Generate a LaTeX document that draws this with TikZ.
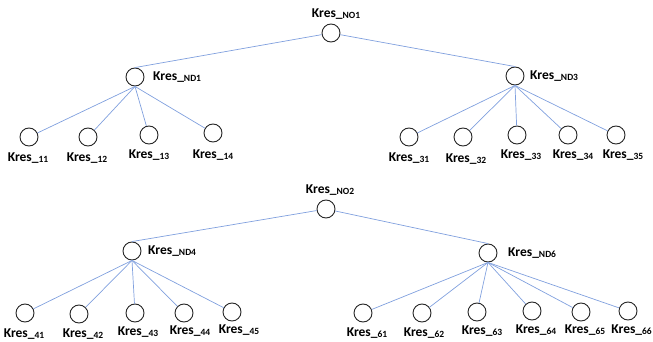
\documentclass[tikz,border=0pt]{standalone}
\usepackage{fontspec}
\setmainfont{Carlito}
\definecolor{edgeblue}{RGB}{128,160,222}
\newcommand{\kres}[1]{\textbf{Kres\_\raisebox{-1pt}{\fontsize{9.5}{9.5}\selectfont #1}}}
\begin{document}
\begin{tikzpicture}[x=1pt,y=-1pt,
  vert/.style={circle,draw=black!85,line width=0.9pt,minimum size=18pt,inner sep=0pt},
  lbl/.style={font=\fontsize{13.5}{14}\selectfont,inner sep=0pt},
  edge/.style={draw=edgeblue,line width=0.7pt}]
\useasboundingbox (0,0) rectangle (653,342);
% top tree
\node[vert] (NO1) at (331,33) {};
\node[lbl] (lNO1) at (336,14) {\kres{NO1}};
\node[vert] (ND1) at (135,77) {};
\node[lbl,anchor=west] (lND1) at (153,77) {\kres{ND1}};
\node[vert] (ND3) at (515,76) {};
\node[lbl,anchor=west] (lND3) at (530,76) {\kres{ND3}};
\node[vert] (L11) at (29,137) {};
\node[vert] (L12) at (88,137) {};
\node[vert] (L13) at (149,135) {};
\node[vert] (L14) at (213,133) {};
\node[lbl] (l11) at (28,158) {\kres{11}};
\node[lbl] (l12) at (87,158) {\kres{12}};
\node[lbl] (l13) at (149,155) {\kres{13}};
\node[lbl] (l14) at (213,155) {\kres{14}};
\node[vert] (L31) at (409,137) {};
\node[vert] (L32) at (463,137) {};
\node[vert] (L33) at (517,135) {};
\node[vert] (L34) at (568,135) {};
\node[vert] (L35) at (616,135) {};
\node[lbl] (l31) at (409,158) {\kres{31}};
\node[lbl] (l32) at (466,159) {\kres{32}};
\node[lbl] (l33) at (521,155) {\kres{33}};
\node[lbl] (l34) at (573,155) {\kres{34}};
\node[lbl] (l35) at (623,155) {\kres{35}};
% bottom tree
\node[vert] (NO2) at (326,209) {};
\node[lbl] (lNO2) at (330,190) {\kres{NO2}};
\node[vert] (ND4) at (132,251) {};
\node[lbl,anchor=west] (lND4) at (148,251) {\kres{ND4}};
\node[vert] (ND6) at (488,253) {};
\node[lbl,anchor=west] (lND6) at (508,253) {\kres{ND6}};
\node[vert] (L41) at (25,313) {};
\node[vert] (L42) at (79,314) {};
\node[vert] (L43) at (135,313) {};
\node[vert] (L44) at (184,313) {};
\node[vert] (L45) at (232,312) {};
\node[lbl] (l41) at (24,334) {\kres{41}};
\node[lbl] (l42) at (83,334) {\kres{42}};
\node[lbl] (l43) at (138,332) {\kres{43}};
\node[lbl] (l44) at (190,331) {\kres{44}};
\node[lbl] (l45) at (239,330) {\kres{45}};
\node[vert] (L61) at (363,313) {};
\node[vert] (L62) at (422,313) {};
\node[vert] (L63) at (477,312) {};
\node[vert] (L64) at (532,311) {};
\node[vert] (L65) at (581,312) {};
\node[vert] (L66) at (628,311) {};
\node[lbl] (l61) at (367,333) {\kres{61}};
\node[lbl] (l62) at (424,333) {\kres{62}};
\node[lbl] (l63) at (482,331) {\kres{63}};
\node[lbl] (l64) at (536,330) {\kres{64}};
\node[lbl] (l65) at (585,330) {\kres{65}};
\node[lbl,anchor=east] (l66) at (652,330) {\kres{66}};
% edges
\draw[edge] (NO1) -- (ND1.north);
\draw[edge] (NO1) -- (ND3.north);
\foreach \c in {L11,L12,L13,L14} \draw[edge] (ND1.south) -- (\c);
\foreach \c in {L31,L32,L33,L34,L35} \draw[edge] (ND3.south) -- (\c);
\draw[edge] (NO2) -- (ND4.north);
\draw[edge] (NO2) -- (ND6.north);
\foreach \c in {L41,L42,L43,L44,L45} \draw[edge] (ND4.south) -- (\c);
\foreach \c in {L61,L62,L63,L64,L65,L66} \draw[edge] (ND6.south) -- (\c);
\end{tikzpicture}
\end{document}
